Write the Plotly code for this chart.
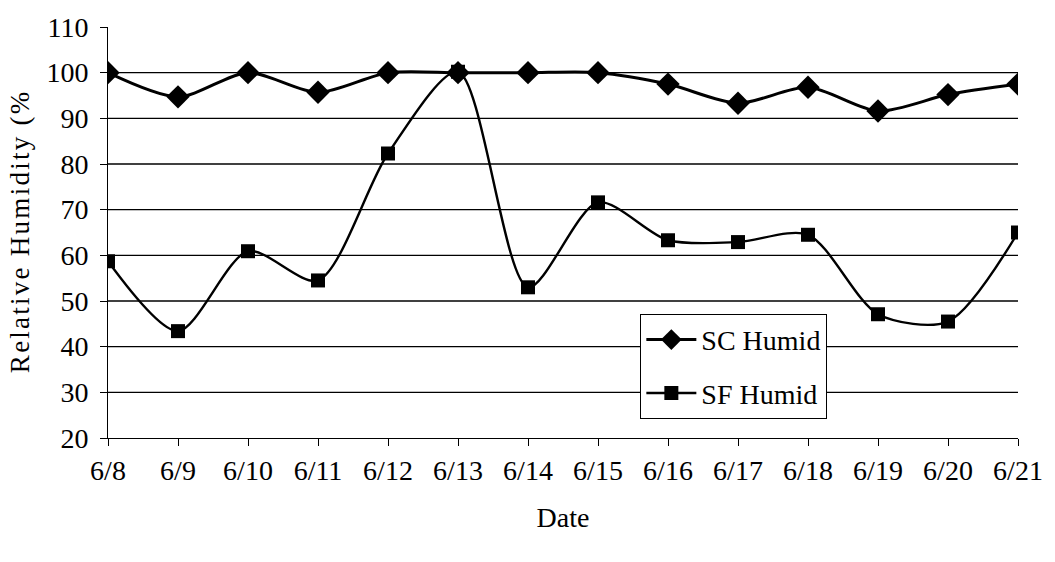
import plotly.graph_objects as go

# Daily relative humidity readings
dates = ["6/8", "6/9", "6/10", "6/11", "6/12", "6/13", "6/14",
         "6/15", "6/16", "6/17", "6/18", "6/19", "6/20", "6/21"]
sc_humid = [100, 94.7, 100, 95.7, 100, 100, 100,
            100, 97.5, 93.3, 96.8, 91.6, 95.2, 97.5]
sf_humid = [58.7, 43.4, 60.9, 54.5, 82.3, 100.2, 53.0,
            71.6, 63.3, 62.9, 64.5, 47.1, 45.5, 65.0]
y_ticks = [20, 30, 40, 50, 60, 70, 80, 90, 100, 110]
grid_values = [30, 40, 50, 60, 70, 80, 90, 100]

FONT = "Liberation Serif, Times New Roman, serif"
HS = "\u200a"  # hair space for letter-spaced axis title

fig = go.Figure()
fig.add_trace(go.Scatter(
    x=dates, y=sc_humid, name="SC Humid", mode="lines+markers",
    legendgroup="sc",
    line=dict(color="black", width=3, shape="spline", smoothing=0.8),
    marker=dict(symbol="diamond", size=18, color="black"),
))
fig.add_trace(go.Scatter(
    x=dates, y=sf_humid, name="SF Humid", mode="lines+markers",
    legendgroup="sf",
    line=dict(color="black", width=2.4, shape="spline", smoothing=0.8),
    marker=dict(symbol="square", size=14, color="black"),
))

# horizontal gridlines (no line at the top tick)
for g in grid_values:
    fig.add_shape(type="line", xref="paper", yref="y", x0=0, x1=1, y0=g, y1=g,
                  line=dict(color="black", width=1.3), layer="below")

y_title = HS.join("Relative Humidity (%")

fig.update_layout(
    width=1055, height=562,
    margin=dict(l=108, r=30, t=20, b=124),
    paper_bgcolor="white", plot_bgcolor="white",
    font=dict(family=FONT, size=28, color="black"),
    showlegend=True,
    legend=dict(
        x=0.585, y=0.302, xanchor="left", yanchor="top",
        bgcolor="white", bordercolor="black", borderwidth=1,
        font=dict(family=FONT, size=28, color="black"),
        itemwidth=50, tracegroupgap=14,
    ),
    xaxis=dict(
        type="category", range=[0, len(dates) - 1],
        showgrid=False, zeroline=False,
        showline=True, linecolor="black", linewidth=1.3,
        ticks="outside", ticklen=7, tickcolor="black", tickwidth=1,
        tickfont=dict(family=FONT, size=28),
        title=dict(text="Date", font=dict(family=FONT, size=28), standoff=22),
    ),
    yaxis=dict(
        range=[20, 110], tickvals=y_ticks,
        showgrid=False, zeroline=False,
        showline=True, linecolor="black", linewidth=1,
        ticks="outside", ticklen=7, tickcolor="black", tickwidth=1,
        ticklabelstandoff=6,
        tickfont=dict(family=FONT, size=28),
        title=dict(text=y_title, font=dict(family=FONT, size=27), standoff=8),
    ),
)

fig.write_html("out.html")
